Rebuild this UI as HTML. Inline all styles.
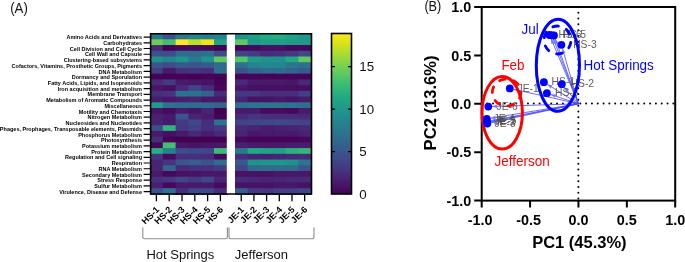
<!DOCTYPE html>
<html><head><meta charset="utf-8"><style>html,body{margin:0;padding:0;background:#fff;width:685px;height:262px;overflow:hidden}svg{display:block;will-change:transform;font-family:"Liberation Sans",sans-serif}</style></head><body>
<svg width="685" height="262" viewBox="0 0 685 262">
<rect width="685" height="262" fill="#fff"/>
<text x="10.2" y="12.5" font-size="14.6" textLength="17.6" lengthAdjust="spacingAndGlyphs" font-family="Liberation Sans" fill="#111">(A)</text>
<rect x="150.00" y="33.60" width="13.80" height="6.72" fill="#2a788e"/>
<rect x="162.80" y="33.60" width="13.80" height="6.72" fill="#3b528b"/>
<rect x="175.60" y="33.60" width="13.80" height="6.72" fill="#2a788e"/>
<rect x="188.40" y="33.60" width="13.80" height="6.72" fill="#25848e"/>
<rect x="201.20" y="33.60" width="13.80" height="6.72" fill="#287d8e"/>
<rect x="214.00" y="33.60" width="13.80" height="6.72" fill="#25848e"/>
<rect x="234.90" y="33.60" width="13.68" height="6.72" fill="#1f958b"/>
<rect x="247.58" y="33.60" width="13.68" height="6.72" fill="#1fa188"/>
<rect x="260.27" y="33.60" width="13.68" height="6.72" fill="#25ab82"/>
<rect x="272.95" y="33.60" width="13.68" height="6.72" fill="#26ad81"/>
<rect x="285.63" y="33.60" width="13.68" height="6.72" fill="#20a386"/>
<rect x="298.32" y="33.60" width="13.68" height="6.72" fill="#1f978b"/>
<rect x="150.00" y="39.33" width="13.80" height="6.72" fill="#6ece58"/>
<rect x="162.80" y="39.33" width="13.80" height="6.72" fill="#44bf70"/>
<rect x="175.60" y="39.33" width="13.80" height="6.72" fill="#fde725"/>
<rect x="188.40" y="39.33" width="13.80" height="6.72" fill="#bddf26"/>
<rect x="201.20" y="39.33" width="13.80" height="6.72" fill="#ece51b"/>
<rect x="214.00" y="39.33" width="13.80" height="6.72" fill="#20a386"/>
<rect x="234.90" y="39.33" width="13.68" height="6.72" fill="#5ec962"/>
<rect x="247.58" y="39.33" width="13.68" height="6.72" fill="#1f978b"/>
<rect x="260.27" y="39.33" width="13.68" height="6.72" fill="#1f9f88"/>
<rect x="272.95" y="39.33" width="13.68" height="6.72" fill="#1f9f88"/>
<rect x="285.63" y="39.33" width="13.68" height="6.72" fill="#1e9c89"/>
<rect x="298.32" y="39.33" width="13.68" height="6.72" fill="#1f9a8a"/>
<rect x="150.00" y="45.05" width="13.80" height="6.72" fill="#472a7a"/>
<rect x="162.80" y="45.05" width="13.80" height="6.72" fill="#440154"/>
<rect x="175.60" y="45.05" width="13.80" height="6.72" fill="#46085c"/>
<rect x="188.40" y="45.05" width="13.80" height="6.72" fill="#460b5e"/>
<rect x="201.20" y="45.05" width="13.80" height="6.72" fill="#46085c"/>
<rect x="214.00" y="45.05" width="13.80" height="6.72" fill="#440154"/>
<rect x="234.90" y="45.05" width="13.68" height="6.72" fill="#450457"/>
<rect x="247.58" y="45.05" width="13.68" height="6.72" fill="#46085c"/>
<rect x="260.27" y="45.05" width="13.68" height="6.72" fill="#471063"/>
<rect x="272.95" y="45.05" width="13.68" height="6.72" fill="#471063"/>
<rect x="285.63" y="45.05" width="13.68" height="6.72" fill="#46085c"/>
<rect x="298.32" y="45.05" width="13.68" height="6.72" fill="#46085c"/>
<rect x="150.00" y="50.77" width="13.80" height="6.72" fill="#3b528b"/>
<rect x="162.80" y="50.77" width="13.80" height="6.72" fill="#3e4c8a"/>
<rect x="175.60" y="50.77" width="13.80" height="6.72" fill="#2f6c8e"/>
<rect x="188.40" y="50.77" width="13.80" height="6.72" fill="#2f6c8e"/>
<rect x="201.20" y="50.77" width="13.80" height="6.72" fill="#2d718e"/>
<rect x="214.00" y="50.77" width="13.80" height="6.72" fill="#3e4989"/>
<rect x="234.90" y="50.77" width="13.68" height="6.72" fill="#414487"/>
<rect x="247.58" y="50.77" width="13.68" height="6.72" fill="#443a83"/>
<rect x="260.27" y="50.77" width="13.68" height="6.72" fill="#472a7a"/>
<rect x="272.95" y="50.77" width="13.68" height="6.72" fill="#46307e"/>
<rect x="285.63" y="50.77" width="13.68" height="6.72" fill="#453781"/>
<rect x="298.32" y="50.77" width="13.68" height="6.72" fill="#404688"/>
<rect x="150.00" y="56.50" width="13.80" height="6.72" fill="#21918c"/>
<rect x="162.80" y="56.50" width="13.80" height="6.72" fill="#25848e"/>
<rect x="175.60" y="56.50" width="13.80" height="6.72" fill="#1f958b"/>
<rect x="188.40" y="56.50" width="13.80" height="6.72" fill="#2a788e"/>
<rect x="201.20" y="56.50" width="13.80" height="6.72" fill="#21918c"/>
<rect x="214.00" y="56.50" width="13.80" height="6.72" fill="#5ec962"/>
<rect x="234.90" y="56.50" width="13.68" height="6.72" fill="#52c569"/>
<rect x="247.58" y="56.50" width="13.68" height="6.72" fill="#1e9c89"/>
<rect x="260.27" y="56.50" width="13.68" height="6.72" fill="#21918c"/>
<rect x="272.95" y="56.50" width="13.68" height="6.72" fill="#21918c"/>
<rect x="285.63" y="56.50" width="13.68" height="6.72" fill="#22a884"/>
<rect x="298.32" y="56.50" width="13.68" height="6.72" fill="#5ec962"/>
<rect x="150.00" y="62.23" width="13.80" height="6.72" fill="#38588c"/>
<rect x="162.80" y="62.23" width="13.80" height="6.72" fill="#3e4c8a"/>
<rect x="175.60" y="62.23" width="13.80" height="6.72" fill="#375a8c"/>
<rect x="188.40" y="62.23" width="13.80" height="6.72" fill="#3a548c"/>
<rect x="201.20" y="62.23" width="13.80" height="6.72" fill="#375a8c"/>
<rect x="214.00" y="62.23" width="13.80" height="6.72" fill="#2f6c8e"/>
<rect x="234.90" y="62.23" width="13.68" height="6.72" fill="#2d718e"/>
<rect x="247.58" y="62.23" width="13.68" height="6.72" fill="#25848e"/>
<rect x="260.27" y="62.23" width="13.68" height="6.72" fill="#23898e"/>
<rect x="272.95" y="62.23" width="13.68" height="6.72" fill="#24868e"/>
<rect x="285.63" y="62.23" width="13.68" height="6.72" fill="#2a788e"/>
<rect x="298.32" y="62.23" width="13.68" height="6.72" fill="#2d718e"/>
<rect x="150.00" y="67.95" width="13.80" height="6.72" fill="#433e85"/>
<rect x="162.80" y="67.95" width="13.80" height="6.72" fill="#481a6c"/>
<rect x="175.60" y="67.95" width="13.80" height="6.72" fill="#46307e"/>
<rect x="188.40" y="67.95" width="13.80" height="6.72" fill="#463480"/>
<rect x="201.20" y="67.95" width="13.80" height="6.72" fill="#46307e"/>
<rect x="214.00" y="67.95" width="13.80" height="6.72" fill="#2f6c8e"/>
<rect x="234.90" y="67.95" width="13.68" height="6.72" fill="#3b528b"/>
<rect x="247.58" y="67.95" width="13.68" height="6.72" fill="#32648e"/>
<rect x="260.27" y="67.95" width="13.68" height="6.72" fill="#306a8e"/>
<rect x="272.95" y="67.95" width="13.68" height="6.72" fill="#306a8e"/>
<rect x="285.63" y="67.95" width="13.68" height="6.72" fill="#32648e"/>
<rect x="298.32" y="67.95" width="13.68" height="6.72" fill="#375a8c"/>
<rect x="150.00" y="73.67" width="13.80" height="6.72" fill="#450457"/>
<rect x="162.80" y="73.67" width="13.80" height="6.72" fill="#440154"/>
<rect x="175.60" y="73.67" width="13.80" height="6.72" fill="#450457"/>
<rect x="188.40" y="73.67" width="13.80" height="6.72" fill="#440154"/>
<rect x="201.20" y="73.67" width="13.80" height="6.72" fill="#450457"/>
<rect x="214.00" y="73.67" width="13.80" height="6.72" fill="#440154"/>
<rect x="234.90" y="73.67" width="13.68" height="6.72" fill="#450457"/>
<rect x="247.58" y="73.67" width="13.68" height="6.72" fill="#450457"/>
<rect x="260.27" y="73.67" width="13.68" height="6.72" fill="#450457"/>
<rect x="272.95" y="73.67" width="13.68" height="6.72" fill="#450457"/>
<rect x="285.63" y="73.67" width="13.68" height="6.72" fill="#450457"/>
<rect x="298.32" y="73.67" width="13.68" height="6.72" fill="#450457"/>
<rect x="150.00" y="79.40" width="13.80" height="6.72" fill="#472a7a"/>
<rect x="162.80" y="79.40" width="13.80" height="6.72" fill="#443a83"/>
<rect x="175.60" y="79.40" width="13.80" height="6.72" fill="#481a6c"/>
<rect x="188.40" y="79.40" width="13.80" height="6.72" fill="#481769"/>
<rect x="201.20" y="79.40" width="13.80" height="6.72" fill="#471365"/>
<rect x="214.00" y="79.40" width="13.80" height="6.72" fill="#450457"/>
<rect x="234.90" y="79.40" width="13.68" height="6.72" fill="#472a7a"/>
<rect x="247.58" y="79.40" width="13.68" height="6.72" fill="#481a6c"/>
<rect x="260.27" y="79.40" width="13.68" height="6.72" fill="#481a6c"/>
<rect x="272.95" y="79.40" width="13.68" height="6.72" fill="#481a6c"/>
<rect x="285.63" y="79.40" width="13.68" height="6.72" fill="#481769"/>
<rect x="298.32" y="79.40" width="13.68" height="6.72" fill="#482878"/>
<rect x="150.00" y="85.12" width="13.80" height="6.72" fill="#481769"/>
<rect x="162.80" y="85.12" width="13.80" height="6.72" fill="#471063"/>
<rect x="175.60" y="85.12" width="13.80" height="6.72" fill="#472a7a"/>
<rect x="188.40" y="85.12" width="13.80" height="6.72" fill="#414487"/>
<rect x="201.20" y="85.12" width="13.80" height="6.72" fill="#472a7a"/>
<rect x="214.00" y="85.12" width="13.80" height="6.72" fill="#46085c"/>
<rect x="234.90" y="85.12" width="13.68" height="6.72" fill="#481769"/>
<rect x="247.58" y="85.12" width="13.68" height="6.72" fill="#471063"/>
<rect x="260.27" y="85.12" width="13.68" height="6.72" fill="#471063"/>
<rect x="272.95" y="85.12" width="13.68" height="6.72" fill="#471063"/>
<rect x="285.63" y="85.12" width="13.68" height="6.72" fill="#471063"/>
<rect x="298.32" y="85.12" width="13.68" height="6.72" fill="#471063"/>
<rect x="150.00" y="90.85" width="13.80" height="6.72" fill="#472e7c"/>
<rect x="162.80" y="90.85" width="13.80" height="6.72" fill="#463480"/>
<rect x="175.60" y="90.85" width="13.80" height="6.72" fill="#2d718e"/>
<rect x="188.40" y="90.85" width="13.80" height="6.72" fill="#2d718e"/>
<rect x="201.20" y="90.85" width="13.80" height="6.72" fill="#32648e"/>
<rect x="214.00" y="90.85" width="13.80" height="6.72" fill="#472a7a"/>
<rect x="234.90" y="90.85" width="13.68" height="6.72" fill="#453781"/>
<rect x="247.58" y="90.85" width="13.68" height="6.72" fill="#453781"/>
<rect x="260.27" y="90.85" width="13.68" height="6.72" fill="#472e7c"/>
<rect x="272.95" y="90.85" width="13.68" height="6.72" fill="#472e7c"/>
<rect x="285.63" y="90.85" width="13.68" height="6.72" fill="#472e7c"/>
<rect x="298.32" y="90.85" width="13.68" height="6.72" fill="#433e85"/>
<rect x="150.00" y="96.57" width="13.80" height="6.72" fill="#481d6f"/>
<rect x="162.80" y="96.57" width="13.80" height="6.72" fill="#481769"/>
<rect x="175.60" y="96.57" width="13.80" height="6.72" fill="#481d6f"/>
<rect x="188.40" y="96.57" width="13.80" height="6.72" fill="#482173"/>
<rect x="201.20" y="96.57" width="13.80" height="6.72" fill="#481769"/>
<rect x="214.00" y="96.57" width="13.80" height="6.72" fill="#481769"/>
<rect x="234.90" y="96.57" width="13.68" height="6.72" fill="#482475"/>
<rect x="247.58" y="96.57" width="13.68" height="6.72" fill="#471365"/>
<rect x="260.27" y="96.57" width="13.68" height="6.72" fill="#471365"/>
<rect x="272.95" y="96.57" width="13.68" height="6.72" fill="#481769"/>
<rect x="285.63" y="96.57" width="13.68" height="6.72" fill="#471365"/>
<rect x="298.32" y="96.57" width="13.68" height="6.72" fill="#481a6c"/>
<rect x="150.00" y="102.30" width="13.80" height="6.72" fill="#1e9c89"/>
<rect x="162.80" y="102.30" width="13.80" height="6.72" fill="#2d718e"/>
<rect x="175.60" y="102.30" width="13.80" height="6.72" fill="#2f6c8e"/>
<rect x="188.40" y="102.30" width="13.80" height="6.72" fill="#2f6c8e"/>
<rect x="201.20" y="102.30" width="13.80" height="6.72" fill="#306a8e"/>
<rect x="214.00" y="102.30" width="13.80" height="6.72" fill="#32648e"/>
<rect x="234.90" y="102.30" width="13.68" height="6.72" fill="#2e6f8e"/>
<rect x="247.58" y="102.30" width="13.68" height="6.72" fill="#2b748e"/>
<rect x="260.27" y="102.30" width="13.68" height="6.72" fill="#2b748e"/>
<rect x="272.95" y="102.30" width="13.68" height="6.72" fill="#2b748e"/>
<rect x="285.63" y="102.30" width="13.68" height="6.72" fill="#2b748e"/>
<rect x="298.32" y="102.30" width="13.68" height="6.72" fill="#2e6f8e"/>
<rect x="150.00" y="108.03" width="13.80" height="6.72" fill="#471365"/>
<rect x="162.80" y="108.03" width="13.80" height="6.72" fill="#460b5e"/>
<rect x="175.60" y="108.03" width="13.80" height="6.72" fill="#481a6c"/>
<rect x="188.40" y="108.03" width="13.80" height="6.72" fill="#471365"/>
<rect x="201.20" y="108.03" width="13.80" height="6.72" fill="#482475"/>
<rect x="214.00" y="108.03" width="13.80" height="6.72" fill="#440154"/>
<rect x="234.90" y="108.03" width="13.68" height="6.72" fill="#481a6c"/>
<rect x="247.58" y="108.03" width="13.68" height="6.72" fill="#481a6c"/>
<rect x="260.27" y="108.03" width="13.68" height="6.72" fill="#460b5e"/>
<rect x="272.95" y="108.03" width="13.68" height="6.72" fill="#460b5e"/>
<rect x="285.63" y="108.03" width="13.68" height="6.72" fill="#46085c"/>
<rect x="298.32" y="108.03" width="13.68" height="6.72" fill="#481a6c"/>
<rect x="150.00" y="113.75" width="13.80" height="6.72" fill="#482173"/>
<rect x="162.80" y="113.75" width="13.80" height="6.72" fill="#481a6c"/>
<rect x="175.60" y="113.75" width="13.80" height="6.72" fill="#38588c"/>
<rect x="188.40" y="113.75" width="13.80" height="6.72" fill="#482475"/>
<rect x="201.20" y="113.75" width="13.80" height="6.72" fill="#481d6f"/>
<rect x="214.00" y="113.75" width="13.80" height="6.72" fill="#450457"/>
<rect x="234.90" y="113.75" width="13.68" height="6.72" fill="#472a7a"/>
<rect x="247.58" y="113.75" width="13.68" height="6.72" fill="#463480"/>
<rect x="260.27" y="113.75" width="13.68" height="6.72" fill="#46307e"/>
<rect x="272.95" y="113.75" width="13.68" height="6.72" fill="#472e7c"/>
<rect x="285.63" y="113.75" width="13.68" height="6.72" fill="#472e7c"/>
<rect x="298.32" y="113.75" width="13.68" height="6.72" fill="#472a7a"/>
<rect x="150.00" y="119.47" width="13.80" height="6.72" fill="#482475"/>
<rect x="162.80" y="119.47" width="13.80" height="6.72" fill="#481a6c"/>
<rect x="175.60" y="119.47" width="13.80" height="6.72" fill="#443a83"/>
<rect x="188.40" y="119.47" width="13.80" height="6.72" fill="#3e4989"/>
<rect x="201.20" y="119.47" width="13.80" height="6.72" fill="#472e7c"/>
<rect x="214.00" y="119.47" width="13.80" height="6.72" fill="#2c738e"/>
<rect x="234.90" y="119.47" width="13.68" height="6.72" fill="#414487"/>
<rect x="247.58" y="119.47" width="13.68" height="6.72" fill="#404688"/>
<rect x="260.27" y="119.47" width="13.68" height="6.72" fill="#3e4989"/>
<rect x="272.95" y="119.47" width="13.68" height="6.72" fill="#3e4989"/>
<rect x="285.63" y="119.47" width="13.68" height="6.72" fill="#404688"/>
<rect x="298.32" y="119.47" width="13.68" height="6.72" fill="#414487"/>
<rect x="150.00" y="125.20" width="13.80" height="6.72" fill="#3c4f8a"/>
<rect x="162.80" y="125.20" width="13.80" height="6.72" fill="#2fb47c"/>
<rect x="175.60" y="125.20" width="13.80" height="6.72" fill="#453781"/>
<rect x="188.40" y="125.20" width="13.80" height="6.72" fill="#433e85"/>
<rect x="201.20" y="125.20" width="13.80" height="6.72" fill="#46307e"/>
<rect x="214.00" y="125.20" width="13.80" height="6.72" fill="#443a83"/>
<rect x="234.90" y="125.20" width="13.68" height="6.72" fill="#472a7a"/>
<rect x="247.58" y="125.20" width="13.68" height="6.72" fill="#482475"/>
<rect x="260.27" y="125.20" width="13.68" height="6.72" fill="#481d6f"/>
<rect x="272.95" y="125.20" width="13.68" height="6.72" fill="#482173"/>
<rect x="285.63" y="125.20" width="13.68" height="6.72" fill="#482475"/>
<rect x="298.32" y="125.20" width="13.68" height="6.72" fill="#482878"/>
<rect x="150.00" y="130.92" width="13.80" height="6.72" fill="#481a6c"/>
<rect x="162.80" y="130.92" width="13.80" height="6.72" fill="#471063"/>
<rect x="175.60" y="130.92" width="13.80" height="6.72" fill="#481a6c"/>
<rect x="188.40" y="130.92" width="13.80" height="6.72" fill="#482878"/>
<rect x="201.20" y="130.92" width="13.80" height="6.72" fill="#481d6f"/>
<rect x="214.00" y="130.92" width="13.80" height="6.72" fill="#482878"/>
<rect x="234.90" y="130.92" width="13.68" height="6.72" fill="#482475"/>
<rect x="247.58" y="130.92" width="13.68" height="6.72" fill="#481769"/>
<rect x="260.27" y="130.92" width="13.68" height="6.72" fill="#481a6c"/>
<rect x="272.95" y="130.92" width="13.68" height="6.72" fill="#481a6c"/>
<rect x="285.63" y="130.92" width="13.68" height="6.72" fill="#481a6c"/>
<rect x="298.32" y="130.92" width="13.68" height="6.72" fill="#482173"/>
<rect x="150.00" y="136.65" width="13.80" height="6.72" fill="#472e7c"/>
<rect x="162.80" y="136.65" width="13.80" height="6.72" fill="#450457"/>
<rect x="175.60" y="136.65" width="13.80" height="6.72" fill="#440154"/>
<rect x="188.40" y="136.65" width="13.80" height="6.72" fill="#440154"/>
<rect x="201.20" y="136.65" width="13.80" height="6.72" fill="#440154"/>
<rect x="214.00" y="136.65" width="13.80" height="6.72" fill="#440154"/>
<rect x="234.90" y="136.65" width="13.68" height="6.72" fill="#46085c"/>
<rect x="247.58" y="136.65" width="13.68" height="6.72" fill="#450457"/>
<rect x="260.27" y="136.65" width="13.68" height="6.72" fill="#450457"/>
<rect x="272.95" y="136.65" width="13.68" height="6.72" fill="#450457"/>
<rect x="285.63" y="136.65" width="13.68" height="6.72" fill="#450457"/>
<rect x="298.32" y="136.65" width="13.68" height="6.72" fill="#46085c"/>
<rect x="150.00" y="142.38" width="13.80" height="6.72" fill="#46085c"/>
<rect x="162.80" y="142.38" width="13.80" height="6.72" fill="#44bf70"/>
<rect x="175.60" y="142.38" width="13.80" height="6.72" fill="#481769"/>
<rect x="188.40" y="142.38" width="13.80" height="6.72" fill="#471365"/>
<rect x="201.20" y="142.38" width="13.80" height="6.72" fill="#481769"/>
<rect x="214.00" y="142.38" width="13.80" height="6.72" fill="#481769"/>
<rect x="234.90" y="142.38" width="13.68" height="6.72" fill="#482173"/>
<rect x="247.58" y="142.38" width="13.68" height="6.72" fill="#481a6c"/>
<rect x="260.27" y="142.38" width="13.68" height="6.72" fill="#481a6c"/>
<rect x="272.95" y="142.38" width="13.68" height="6.72" fill="#481a6c"/>
<rect x="285.63" y="142.38" width="13.68" height="6.72" fill="#481d6f"/>
<rect x="298.32" y="142.38" width="13.68" height="6.72" fill="#481d6f"/>
<rect x="150.00" y="148.10" width="13.80" height="6.72" fill="#29af7f"/>
<rect x="162.80" y="148.10" width="13.80" height="6.72" fill="#27808e"/>
<rect x="175.60" y="148.10" width="13.80" height="6.72" fill="#3e4c8a"/>
<rect x="188.40" y="148.10" width="13.80" height="6.72" fill="#3e4989"/>
<rect x="201.20" y="148.10" width="13.80" height="6.72" fill="#404688"/>
<rect x="214.00" y="148.10" width="13.80" height="6.72" fill="#3bbb75"/>
<rect x="234.90" y="148.10" width="13.68" height="6.72" fill="#2a788e"/>
<rect x="247.58" y="148.10" width="13.68" height="6.72" fill="#22a884"/>
<rect x="260.27" y="148.10" width="13.68" height="6.72" fill="#20a386"/>
<rect x="272.95" y="148.10" width="13.68" height="6.72" fill="#1fa188"/>
<rect x="285.63" y="148.10" width="13.68" height="6.72" fill="#2cb17e"/>
<rect x="298.32" y="148.10" width="13.68" height="6.72" fill="#32b67a"/>
<rect x="150.00" y="153.82" width="13.80" height="6.72" fill="#463480"/>
<rect x="162.80" y="153.82" width="13.80" height="6.72" fill="#460b5e"/>
<rect x="175.60" y="153.82" width="13.80" height="6.72" fill="#46307e"/>
<rect x="188.40" y="153.82" width="13.80" height="6.72" fill="#46307e"/>
<rect x="201.20" y="153.82" width="13.80" height="6.72" fill="#472e7c"/>
<rect x="214.00" y="153.82" width="13.80" height="6.72" fill="#46085c"/>
<rect x="234.90" y="153.82" width="13.68" height="6.72" fill="#472e7c"/>
<rect x="247.58" y="153.82" width="13.68" height="6.72" fill="#482475"/>
<rect x="260.27" y="153.82" width="13.68" height="6.72" fill="#482173"/>
<rect x="272.95" y="153.82" width="13.68" height="6.72" fill="#482475"/>
<rect x="285.63" y="153.82" width="13.68" height="6.72" fill="#482878"/>
<rect x="298.32" y="153.82" width="13.68" height="6.72" fill="#472a7a"/>
<rect x="150.00" y="159.55" width="13.80" height="6.72" fill="#482475"/>
<rect x="162.80" y="159.55" width="13.80" height="6.72" fill="#463480"/>
<rect x="175.60" y="159.55" width="13.80" height="6.72" fill="#3a548c"/>
<rect x="188.40" y="159.55" width="13.80" height="6.72" fill="#355f8d"/>
<rect x="201.20" y="159.55" width="13.80" height="6.72" fill="#3b528b"/>
<rect x="214.00" y="159.55" width="13.80" height="6.72" fill="#2f6c8e"/>
<rect x="234.90" y="159.55" width="13.68" height="6.72" fill="#38588c"/>
<rect x="247.58" y="159.55" width="13.68" height="6.72" fill="#20928c"/>
<rect x="260.27" y="159.55" width="13.68" height="6.72" fill="#1f958b"/>
<rect x="272.95" y="159.55" width="13.68" height="6.72" fill="#1f958b"/>
<rect x="285.63" y="159.55" width="13.68" height="6.72" fill="#21918c"/>
<rect x="298.32" y="159.55" width="13.68" height="6.72" fill="#2b758e"/>
<rect x="150.00" y="165.27" width="13.80" height="6.72" fill="#482475"/>
<rect x="162.80" y="165.27" width="13.80" height="6.72" fill="#32648e"/>
<rect x="175.60" y="165.27" width="13.80" height="6.72" fill="#472a7a"/>
<rect x="188.40" y="165.27" width="13.80" height="6.72" fill="#46307e"/>
<rect x="201.20" y="165.27" width="13.80" height="6.72" fill="#46307e"/>
<rect x="214.00" y="165.27" width="13.80" height="6.72" fill="#443a83"/>
<rect x="234.90" y="165.27" width="13.68" height="6.72" fill="#404688"/>
<rect x="247.58" y="165.27" width="13.68" height="6.72" fill="#306a8e"/>
<rect x="260.27" y="165.27" width="13.68" height="6.72" fill="#2f6c8e"/>
<rect x="272.95" y="165.27" width="13.68" height="6.72" fill="#2f6c8e"/>
<rect x="285.63" y="165.27" width="13.68" height="6.72" fill="#2f6c8e"/>
<rect x="298.32" y="165.27" width="13.68" height="6.72" fill="#3a548c"/>
<rect x="150.00" y="171.00" width="13.80" height="6.72" fill="#481a6c"/>
<rect x="162.80" y="171.00" width="13.80" height="6.72" fill="#46085c"/>
<rect x="175.60" y="171.00" width="13.80" height="6.72" fill="#471063"/>
<rect x="188.40" y="171.00" width="13.80" height="6.72" fill="#471365"/>
<rect x="201.20" y="171.00" width="13.80" height="6.72" fill="#481769"/>
<rect x="214.00" y="171.00" width="13.80" height="6.72" fill="#481769"/>
<rect x="234.90" y="171.00" width="13.68" height="6.72" fill="#471365"/>
<rect x="247.58" y="171.00" width="13.68" height="6.72" fill="#471365"/>
<rect x="260.27" y="171.00" width="13.68" height="6.72" fill="#471365"/>
<rect x="272.95" y="171.00" width="13.68" height="6.72" fill="#481769"/>
<rect x="285.63" y="171.00" width="13.68" height="6.72" fill="#481769"/>
<rect x="298.32" y="171.00" width="13.68" height="6.72" fill="#481769"/>
<rect x="150.00" y="176.72" width="13.80" height="6.72" fill="#46307e"/>
<rect x="162.80" y="176.72" width="13.80" height="6.72" fill="#453781"/>
<rect x="175.60" y="176.72" width="13.80" height="6.72" fill="#414487"/>
<rect x="188.40" y="176.72" width="13.80" height="6.72" fill="#443a83"/>
<rect x="201.20" y="176.72" width="13.80" height="6.72" fill="#404688"/>
<rect x="214.00" y="176.72" width="13.80" height="6.72" fill="#482475"/>
<rect x="234.90" y="176.72" width="13.68" height="6.72" fill="#472a7a"/>
<rect x="247.58" y="176.72" width="13.68" height="6.72" fill="#482878"/>
<rect x="260.27" y="176.72" width="13.68" height="6.72" fill="#482475"/>
<rect x="272.95" y="176.72" width="13.68" height="6.72" fill="#482475"/>
<rect x="285.63" y="176.72" width="13.68" height="6.72" fill="#482878"/>
<rect x="298.32" y="176.72" width="13.68" height="6.72" fill="#472a7a"/>
<rect x="150.00" y="182.45" width="13.80" height="6.72" fill="#482173"/>
<rect x="162.80" y="182.45" width="13.80" height="6.72" fill="#46085c"/>
<rect x="175.60" y="182.45" width="13.80" height="6.72" fill="#481a6c"/>
<rect x="188.40" y="182.45" width="13.80" height="6.72" fill="#481a6c"/>
<rect x="201.20" y="182.45" width="13.80" height="6.72" fill="#481a6c"/>
<rect x="214.00" y="182.45" width="13.80" height="6.72" fill="#460b5e"/>
<rect x="234.90" y="182.45" width="13.68" height="6.72" fill="#471365"/>
<rect x="247.58" y="182.45" width="13.68" height="6.72" fill="#471365"/>
<rect x="260.27" y="182.45" width="13.68" height="6.72" fill="#471365"/>
<rect x="272.95" y="182.45" width="13.68" height="6.72" fill="#481769"/>
<rect x="285.63" y="182.45" width="13.68" height="6.72" fill="#481769"/>
<rect x="298.32" y="182.45" width="13.68" height="6.72" fill="#471365"/>
<rect x="150.00" y="188.17" width="13.80" height="6.72" fill="#3b528b"/>
<rect x="162.80" y="188.17" width="13.80" height="6.72" fill="#2d718e"/>
<rect x="175.60" y="188.17" width="13.80" height="6.72" fill="#472e7c"/>
<rect x="188.40" y="188.17" width="13.80" height="6.72" fill="#3e4989"/>
<rect x="201.20" y="188.17" width="13.80" height="6.72" fill="#3e4989"/>
<rect x="214.00" y="188.17" width="13.80" height="6.72" fill="#472e7c"/>
<rect x="234.90" y="188.17" width="13.68" height="6.72" fill="#355f8d"/>
<rect x="247.58" y="188.17" width="13.68" height="6.72" fill="#443a83"/>
<rect x="260.27" y="188.17" width="13.68" height="6.72" fill="#453781"/>
<rect x="272.95" y="188.17" width="13.68" height="6.72" fill="#433e85"/>
<rect x="285.63" y="188.17" width="13.68" height="6.72" fill="#424086"/>
<rect x="298.32" y="188.17" width="13.68" height="6.72" fill="#404688"/>
<rect x="226.80" y="33.60" width="8.10" height="160.30" fill="#fff"/>
<path d="M150.6,193.9 V33.8 H311.5 V193.9 M149.8,194 H312.2" stroke="#000" stroke-width="1.6" fill="none"/>
<text x="142" y="39.21" text-anchor="end" font-size="6.2" textLength="75.59" lengthAdjust="spacingAndGlyphs" font-weight="bold" font-family="Liberation Sans" fill="#000">Amino Acids and Derivatives</text>
<text x="142" y="44.94" text-anchor="end" font-size="6.2" textLength="38.81" lengthAdjust="spacingAndGlyphs" font-weight="bold" font-family="Liberation Sans" fill="#000">Carbohydrates</text>
<text x="142" y="50.66" text-anchor="end" font-size="6.2" textLength="72.13" lengthAdjust="spacingAndGlyphs" font-weight="bold" font-family="Liberation Sans" fill="#000">Cell Division and Cell Cycle</text>
<text x="142" y="56.39" text-anchor="end" font-size="6.2" textLength="56.94" lengthAdjust="spacingAndGlyphs" font-weight="bold" font-family="Liberation Sans" fill="#000">Cell Wall and Capsule</text>
<text x="142" y="62.11" text-anchor="end" font-size="6.2" textLength="78.24" lengthAdjust="spacingAndGlyphs" font-weight="bold" font-family="Liberation Sans" fill="#000">Clustering-based subsystems</text>
<text x="142" y="67.84" text-anchor="end" font-size="6.2" textLength="130.39" lengthAdjust="spacingAndGlyphs" font-weight="bold" font-family="Liberation Sans" fill="#000">Cofactors, Vitamins, Prosthetic Groups, Pigments</text>
<text x="142" y="73.56" text-anchor="end" font-size="6.2" textLength="43.49" lengthAdjust="spacingAndGlyphs" font-weight="bold" font-family="Liberation Sans" fill="#000">DNA Metabolism</text>
<text x="142" y="79.29" text-anchor="end" font-size="6.2" textLength="70.28" lengthAdjust="spacingAndGlyphs" font-weight="bold" font-family="Liberation Sans" fill="#000">Dormancy and Sporulation</text>
<text x="142" y="85.01" text-anchor="end" font-size="6.2" textLength="94.22" lengthAdjust="spacingAndGlyphs" font-weight="bold" font-family="Liberation Sans" fill="#000">Fatty Acids, Lipids, and Isoprenoids</text>
<text x="142" y="90.74" text-anchor="end" font-size="6.2" textLength="84.34" lengthAdjust="spacingAndGlyphs" font-weight="bold" font-family="Liberation Sans" fill="#000">Iron acquisition and metabolism</text>
<text x="142" y="96.46" text-anchor="end" font-size="6.2" textLength="54.40" lengthAdjust="spacingAndGlyphs" font-weight="bold" font-family="Liberation Sans" fill="#000">Membrane Transport</text>
<text x="142" y="102.19" text-anchor="end" font-size="6.2" textLength="95.74" lengthAdjust="spacingAndGlyphs" font-weight="bold" font-family="Liberation Sans" fill="#000">Metabolism of Aromatic Compounds</text>
<text x="142" y="107.91" text-anchor="end" font-size="6.2" textLength="37.59" lengthAdjust="spacingAndGlyphs" font-weight="bold" font-family="Liberation Sans" fill="#000">Miscellaneous</text>
<text x="142" y="113.64" text-anchor="end" font-size="6.2" textLength="63.25" lengthAdjust="spacingAndGlyphs" font-weight="bold" font-family="Liberation Sans" fill="#000">Motility and Chemotaxis</text>
<text x="142" y="119.36" text-anchor="end" font-size="6.2" textLength="54.39" lengthAdjust="spacingAndGlyphs" font-weight="bold" font-family="Liberation Sans" fill="#000">Nitrogen Metabolism</text>
<text x="142" y="125.09" text-anchor="end" font-size="6.2" textLength="76.40" lengthAdjust="spacingAndGlyphs" font-weight="bold" font-family="Liberation Sans" fill="#000">Nucleosides and Nucleotides</text>
<text x="142" y="130.81" text-anchor="end" font-size="6.2" textLength="142.13" lengthAdjust="spacingAndGlyphs" font-weight="bold" font-family="Liberation Sans" fill="#000">Phages, Prophages, Transposable elements, Plasmids</text>
<text x="142" y="136.54" text-anchor="end" font-size="6.2" textLength="63.86" lengthAdjust="spacingAndGlyphs" font-weight="bold" font-family="Liberation Sans" fill="#000">Phosphorus Metabolism</text>
<text x="142" y="142.26" text-anchor="end" font-size="6.2" textLength="40.95" lengthAdjust="spacingAndGlyphs" font-weight="bold" font-family="Liberation Sans" fill="#000">Photosynthesis</text>
<text x="142" y="147.99" text-anchor="end" font-size="6.2" textLength="59.90" lengthAdjust="spacingAndGlyphs" font-weight="bold" font-family="Liberation Sans" fill="#000">Potassium metabolism</text>
<text x="142" y="153.71" text-anchor="end" font-size="6.2" textLength="50.73" lengthAdjust="spacingAndGlyphs" font-weight="bold" font-family="Liberation Sans" fill="#000">Protein Metabolism</text>
<text x="142" y="159.44" text-anchor="end" font-size="6.2" textLength="77.00" lengthAdjust="spacingAndGlyphs" font-weight="bold" font-family="Liberation Sans" fill="#000">Regulation and Cell signaling</text>
<text x="142" y="165.16" text-anchor="end" font-size="6.2" textLength="30.25" lengthAdjust="spacingAndGlyphs" font-weight="bold" font-family="Liberation Sans" fill="#000">Respiration</text>
<text x="142" y="170.89" text-anchor="end" font-size="6.2" textLength="43.49" lengthAdjust="spacingAndGlyphs" font-weight="bold" font-family="Liberation Sans" fill="#000">RNA Metabolism</text>
<text x="142" y="176.61" text-anchor="end" font-size="6.2" textLength="59.90" lengthAdjust="spacingAndGlyphs" font-weight="bold" font-family="Liberation Sans" fill="#000">Secondary Metabolism</text>
<text x="142" y="182.34" text-anchor="end" font-size="6.2" textLength="44.63" lengthAdjust="spacingAndGlyphs" font-weight="bold" font-family="Liberation Sans" fill="#000">Stress Response</text>
<text x="142" y="188.06" text-anchor="end" font-size="6.2" textLength="47.67" lengthAdjust="spacingAndGlyphs" font-weight="bold" font-family="Liberation Sans" fill="#000">Sulfur Metabolism</text>
<text x="142" y="193.79" text-anchor="end" font-size="6.2" textLength="82.74" lengthAdjust="spacingAndGlyphs" font-weight="bold" font-family="Liberation Sans" fill="#000">Virulence, Disease and Defense</text>
<path d="M143.6,37.06H150 M143.6,42.79H150 M143.6,48.51H150 M143.6,54.24H150 M143.6,59.96H150 M143.6,65.69H150 M143.6,71.41H150 M143.6,77.14H150 M143.6,82.86H150 M143.6,88.59H150 M143.6,94.31H150 M143.6,100.04H150 M143.6,105.76H150 M143.6,111.49H150 M143.6,117.21H150 M143.6,122.94H150 M143.6,128.66H150 M143.6,134.39H150 M143.6,140.11H150 M143.6,145.84H150 M143.6,151.56H150 M143.6,157.29H150 M143.6,163.01H150 M143.6,168.74H150 M143.6,174.46H150 M143.6,180.19H150 M143.6,185.91H150 M143.6,191.64H150" stroke="#000" stroke-width="1.2"/>
<text transform="translate(159.80,210.3) rotate(-45)" text-anchor="end" font-size="9" font-weight="bold" font-family="Liberation Sans">HS-1</text>
<text transform="translate(172.60,210.3) rotate(-45)" text-anchor="end" font-size="9" font-weight="bold" font-family="Liberation Sans">HS-2</text>
<text transform="translate(185.40,210.3) rotate(-45)" text-anchor="end" font-size="9" font-weight="bold" font-family="Liberation Sans">HS-3</text>
<text transform="translate(198.20,210.3) rotate(-45)" text-anchor="end" font-size="9" font-weight="bold" font-family="Liberation Sans">HS-4</text>
<text transform="translate(211.00,210.3) rotate(-45)" text-anchor="end" font-size="9" font-weight="bold" font-family="Liberation Sans">HS-5</text>
<text transform="translate(223.80,210.3) rotate(-45)" text-anchor="end" font-size="9" font-weight="bold" font-family="Liberation Sans">HS-6</text>
<text transform="translate(244.64,210.3) rotate(-45)" text-anchor="end" font-size="9" font-weight="bold" font-family="Liberation Sans">JE-1</text>
<text transform="translate(257.32,210.3) rotate(-45)" text-anchor="end" font-size="9" font-weight="bold" font-family="Liberation Sans">JE-2</text>
<text transform="translate(270.01,210.3) rotate(-45)" text-anchor="end" font-size="9" font-weight="bold" font-family="Liberation Sans">JE-3</text>
<text transform="translate(282.69,210.3) rotate(-45)" text-anchor="end" font-size="9" font-weight="bold" font-family="Liberation Sans">JE-4</text>
<text transform="translate(295.38,210.3) rotate(-45)" text-anchor="end" font-size="9" font-weight="bold" font-family="Liberation Sans">JE-5</text>
<text transform="translate(308.06,210.3) rotate(-45)" text-anchor="end" font-size="9" font-weight="bold" font-family="Liberation Sans">JE-6</text>
<path d="M156.40,194.5V201.2 M169.20,194.5V201.2 M182.00,194.5V201.2 M194.80,194.5V201.2 M207.60,194.5V201.2 M220.40,194.5V201.2 M241.24,194.5V201.2 M253.93,194.5V201.2 M266.61,194.5V201.2 M279.29,194.5V201.2 M291.98,194.5V201.2 M304.66,194.5V201.2" stroke="#000" stroke-width="1.3"/>
<path d="M142.8,227.6 V237 Q142.8,238.8 144.6,238.8 H225.6 Q227.4,238.8 227.4,237 V227.6" stroke="#8c8c8c" stroke-width="1.1" fill="none"/>
<path d="M229.0,227.6 V237 Q229.0,238.8 230.8,238.8 H312.2 Q314.0,238.8 314.0,237 V227.6" stroke="#8c8c8c" stroke-width="1.1" fill="none"/>
<text x="146.4" y="259" font-size="13" font-family="Liberation Sans" fill="#111">Hot Springs</text>
<text x="234.8" y="259" font-size="13" font-family="Liberation Sans" fill="#111">Jefferson</text>
<defs><linearGradient id="vg" x1="0" y1="1" x2="0" y2="0">
<stop offset="0.00" stop-color="#440154"/>
<stop offset="0.05" stop-color="#471365"/>
<stop offset="0.10" stop-color="#482475"/>
<stop offset="0.15" stop-color="#463480"/>
<stop offset="0.20" stop-color="#414487"/>
<stop offset="0.25" stop-color="#3b528b"/>
<stop offset="0.30" stop-color="#355f8d"/>
<stop offset="0.35" stop-color="#2f6c8e"/>
<stop offset="0.40" stop-color="#2a788e"/>
<stop offset="0.45" stop-color="#25848e"/>
<stop offset="0.50" stop-color="#21918c"/>
<stop offset="0.55" stop-color="#1e9c89"/>
<stop offset="0.60" stop-color="#22a884"/>
<stop offset="0.65" stop-color="#2fb47c"/>
<stop offset="0.70" stop-color="#44bf70"/>
<stop offset="0.75" stop-color="#5ec962"/>
<stop offset="0.80" stop-color="#7ad151"/>
<stop offset="0.85" stop-color="#9bd93c"/>
<stop offset="0.90" stop-color="#bddf26"/>
<stop offset="0.95" stop-color="#dfe318"/>
<stop offset="1.00" stop-color="#fde725"/>
</linearGradient></defs>
<rect x="331.5" y="33.5" width="20.0" height="160.5" fill="url(#vg)" stroke="#000" stroke-width="1.6"/>
<text x="359.3" y="198.75" font-size="13.3" font-family="Liberation Sans" fill="#111">0</text>
<text x="359.3" y="156.29" font-size="13.3" font-family="Liberation Sans" fill="#111">5</text>
<text x="359.3" y="113.83" font-size="13.3" font-family="Liberation Sans" fill="#111">10</text>
<text x="359.3" y="71.37" font-size="13.3" font-family="Liberation Sans" fill="#111">15</text>
<path d="M331.5,151.54h3.5 M351.5,151.54h-3.5 M331.5,109.08h3.5 M351.5,109.08h-3.5 M331.5,66.62h3.5 M351.5,66.62h-3.5" stroke="#000" stroke-width="1.3"/>
<text x="424.4" y="10.5" font-size="14" textLength="16.9" lengthAdjust="spacingAndGlyphs" font-family="Liberation Sans" fill="#111">(B)</text>
<line x1="481.45" y1="103.55" x2="675.2" y2="103.55" stroke="#000" stroke-width="2" stroke-dasharray="0 5.815" stroke-linecap="round"/>
<line x1="578.35" y1="6.89" x2="578.35" y2="200.6" stroke="#000" stroke-width="2" stroke-dasharray="0 5.81" stroke-linecap="round"/>
<rect x="481.7" y="7.0" width="193.50000000000006" height="193.6" fill="none" stroke="#000" stroke-width="2"/>
<path d="M481.7,200.60h-7.5 M481.70,200.6v7 M481.7,152.20h-7.5 M530.08,200.6v7 M481.7,103.80h-7.5 M578.45,200.6v7 M481.7,55.40h-7.5 M626.83,200.6v7 M481.7,7.00h-7.5 M675.20,200.6v7" stroke="#000" stroke-width="2"/>
<text x="471.3" y="205.70" text-anchor="end" font-size="14.4" font-weight="bold" font-family="Liberation Sans">-1.0</text>
<text x="480.20" y="224.9" text-anchor="middle" font-size="14.4" font-weight="bold" font-family="Liberation Sans">-1.0</text>
<text x="471.3" y="157.30" text-anchor="end" font-size="14.4" font-weight="bold" font-family="Liberation Sans">-0.5</text>
<text x="528.58" y="224.9" text-anchor="middle" font-size="14.4" font-weight="bold" font-family="Liberation Sans">-0.5</text>
<text x="471.3" y="108.90" text-anchor="end" font-size="14.4" font-weight="bold" font-family="Liberation Sans">0.0</text>
<text x="578.45" y="224.9" text-anchor="middle" font-size="14.4" font-weight="bold" font-family="Liberation Sans">0.0</text>
<text x="471.3" y="60.50" text-anchor="end" font-size="14.4" font-weight="bold" font-family="Liberation Sans">0.5</text>
<text x="626.83" y="224.9" text-anchor="middle" font-size="14.4" font-weight="bold" font-family="Liberation Sans">0.5</text>
<text x="471.3" y="12.10" text-anchor="end" font-size="14.4" font-weight="bold" font-family="Liberation Sans">1.0</text>
<text x="675.20" y="224.9" text-anchor="middle" font-size="14.4" font-weight="bold" font-family="Liberation Sans">1.0</text>
<text x="579.4" y="248" text-anchor="middle" font-size="16.5" font-weight="bold" font-family="Liberation Sans">PC1 (45.3%)</text>
<text transform="translate(435.6,102.9) rotate(-90)" text-anchor="middle" font-size="16.6" font-weight="bold" font-family="Liberation Sans">PC2 (13.6%)</text>
<path d="M578.45,103.80L551.01,38.59 M578.45,103.80L555.31,39.17 M578.45,103.80L553.40,38.94 M578.45,103.80L562.48,48.55 M578.45,103.80L547.21,84.27 M578.45,103.80L564.32,87.17 M578.45,103.80L550.60,94.44 M578.45,103.80L513.61,89.25 M578.45,103.80L492.20,106.48 M578.45,103.80L490.65,118.17 M578.45,103.80L490.83,120.76 M578.45,103.80L491.11,122.68 M578.45,103.80L490.62,121.72" stroke="#4848ff" stroke-opacity="0.8" stroke-width="1" fill="none"/>
<path d="M551.01,38.59L554.70,42.47L551.20,43.94Z M555.31,39.17L558.79,43.24L555.21,44.52Z M553.40,38.94L556.98,42.92L553.43,44.29Z M562.48,48.55L565.70,52.82L562.05,53.88Z M547.21,84.27L552.45,85.31L550.44,88.53Z M564.32,87.17L569.01,89.75L566.11,92.21Z M550.60,94.44L555.94,94.23L554.73,97.84Z M513.61,89.25L518.90,88.49L518.07,92.20Z M492.20,106.48L497.14,104.42L497.25,108.22Z M490.65,118.17L495.28,115.49L495.89,119.24Z M490.83,120.76L495.38,117.94L496.10,121.67Z M491.11,122.68L495.60,119.76L496.40,123.48Z M490.62,121.72L495.14,118.86L495.90,122.58Z" fill="#6a6aff" fill-opacity="0.8"/>
<text x="558.4" y="37.7" font-size="10.3" font-family="Liberation Sans" fill="#4a4a4a" fill-opacity="0.9">HS-6</text>
<text x="562.5" y="37.7" font-size="10.3" font-family="Liberation Sans" fill="#4a4a4a" fill-opacity="0.9">HS-5</text>
<text x="573.2" y="47.6" font-size="10.3" font-family="Liberation Sans" fill="#4a4a4a" fill-opacity="0.9">HS-3</text>
<text x="551.6" y="84.6" font-size="10.3" font-family="Liberation Sans" fill="#4a4a4a" fill-opacity="0.9">HS-1</text>
<text x="570.6" y="87.4" font-size="10.3" font-family="Liberation Sans" fill="#4a4a4a" fill-opacity="0.9">HS-2</text>
<text x="555" y="96" font-size="10.3" font-family="Liberation Sans" fill="#4a4a4a" fill-opacity="0.9">HS-5</text>
<text x="517.5" y="92" font-size="10.3" font-family="Liberation Sans" fill="#4a4a4a" fill-opacity="0.9">JE-1</text>
<text x="496.5" y="109.8" font-size="10.3" font-family="Liberation Sans" fill="#4a4a4a" fill-opacity="0.9">JE-6</text>
<text x="493.6" y="122.3" font-size="10.3" font-family="Liberation Sans" fill="#4a4a4a" fill-opacity="0.9">JE-4</text>
<text x="494.6" y="126.6" font-size="10.3" font-family="Liberation Sans" fill="#4a4a4a" fill-opacity="0.9">JE-3</text>
<text x="495.4" y="124.4" font-size="10.3" font-family="Liberation Sans" fill="#4a4a4a" fill-opacity="0.9">JE-5</text>
<text x="494.2" y="125" font-size="10.3" font-family="Liberation Sans" fill="#4a4a4a" fill-opacity="0.9">JE-2</text>
<ellipse cx="0" cy="0" rx="21.6" ry="46" transform="translate(557.9,65.35) rotate(0.3)" fill="none" stroke="#0000ff" stroke-width="3"/>
<ellipse cx="0" cy="0" rx="13.5" ry="14" pathLength="360" transform="translate(557.5,40)" fill="none" stroke="#0000ff" stroke-width="2.8" stroke-linecap="round" stroke-dasharray="24 36" stroke-dashoffset="-10"/>
<ellipse cx="0" cy="0" rx="20.2" ry="36.3" transform="translate(502.2,112.8)" fill="none" stroke="#ff0000" stroke-width="3"/>
<ellipse cx="0" cy="0" rx="14.3" ry="13.5" pathLength="360" transform="translate(506.6,92.5)" fill="none" stroke="#ff0000" stroke-width="2.8" stroke-linecap="round" stroke-dasharray="24 36" stroke-dashoffset="0"/>
<circle cx="549.5" cy="35.0" r="3.9" fill="#0000ff"/>
<circle cx="554.0" cy="35.5" r="3.9" fill="#0000ff"/>
<circle cx="552.0" cy="35.3" r="3.9" fill="#0000ff"/>
<circle cx="561.4" cy="44.8" r="3.9" fill="#0000ff"/>
<circle cx="543.9" cy="82.2" r="3.9" fill="#0000ff"/>
<circle cx="561.8" cy="84.2" r="3.9" fill="#0000ff"/>
<circle cx="546.9" cy="93.2" r="3.9" fill="#0000ff"/>
<circle cx="509.8" cy="88.4" r="3.9" fill="#0000ff"/>
<circle cx="488.3" cy="106.6" r="3.9" fill="#0000ff"/>
<circle cx="486.8" cy="118.8" r="3.9" fill="#0000ff"/>
<circle cx="487.0" cy="121.5" r="3.9" fill="#0000ff"/>
<circle cx="487.3" cy="123.5" r="3.9" fill="#0000ff"/>
<circle cx="486.8" cy="122.5" r="3.9" fill="#0000ff"/>
<text x="521.5" y="34.0" font-size="14" textLength="17.18" lengthAdjust="spacingAndGlyphs" font-family="Liberation Sans" fill="#0000ff">Jul</text>
<text x="583.6" y="70.2" font-size="14" textLength="70.22" lengthAdjust="spacingAndGlyphs" font-family="Liberation Sans" fill="#0000ff">Hot Springs</text>
<text x="501.4" y="70.4" font-size="14" textLength="23.16" lengthAdjust="spacingAndGlyphs" font-family="Liberation Sans" fill="#ff0000">Feb</text>
<text x="494.6" y="166.4" font-size="14" textLength="55.03" lengthAdjust="spacingAndGlyphs" font-family="Liberation Sans" fill="#ff0000">Jefferson</text>
</svg>
</body></html>
